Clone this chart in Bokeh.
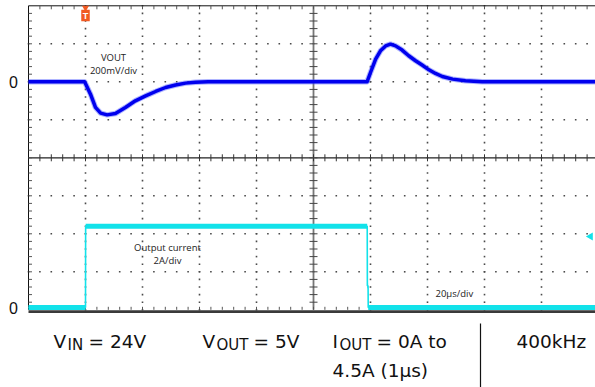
import numpy as np
from bokeh.plotting import figure
from bokeh.models import Range1d, Label
from bokeh.embed import file_html
from bokeh.resources import INLINE
from bokeh.core.properties import value

# ---------------- data ----------------
# Output-voltage deviation (mV) versus time (µs); trigger at t = 0
t_vout = [-20, -0.3, 1.75, 3.5, 5.3, 7.6, 10.5, 14.0, 17.5, 21.1, 24.6, 28.1,
          31.6, 35.1, 38.6, 43, 60, 80, 98.8, 100.0, 101.8, 103.5, 105.3,
          107.0, 108.8, 111.1, 113.4, 115.8, 118.1, 120.5, 122.8, 125.2,
          128.8, 133.3, 139.2, 160, 180]
vout_mv = [0, 0, -65, -135, -165, -174, -167, -135, -100, -74, -51, -30,
           -17, -7, -2, 0, 0, 0, 0, 49, 119, 163, 189,
           198, 189, 167, 137, 111, 88, 63, 44, 28,
           14, 5, 0, 0, 0]
# Output current (A) versus time (µs)
t_iout = [-20, 0, 0.05, 98.85, 98.9, 99.15, 99.2, 180]
iout_a = [0.12, 0.12, 4.4, 4.4, 1.26, 1.26, 0.12, 0.12]

# scope settings / text
time_per_div = 20      # µs/div
vout_per_div = 200     # mV/div
iout_per_div = 2       # A/div
zero_labels = ["0", "0"]
vout_label = ["VOUT", "200mV/div"]
iout_label = ["Output current", "2A/div"]
time_label = "20µs/div"

# ---------------- layout (screen pixels) ----------------
W, H = 595, 387
PX0, PY0 = 0, 0                 # page position of the figure
GX0, GY0 = 28, 5.3              # grid left / top
DW, DH = 57, 38                 # division size
NX, NY = 10, 8
TRIG_DIV = 1                    # trigger at 1 div from left
V0_DIV = 2                      # VOUT zero at 2 div from top
I0_DIV = 8                      # IOUT zero at bottom

x_lo, x_hi = PX0, PX0 + W
y_lo, y_hi = PY0 + H, PY0       # flipped: screen-like

p = figure(width=W, height=H, output_backend="svg", toolbar_location=None,
           x_range=Range1d(x_lo, x_hi), y_range=Range1d(y_lo, y_hi),
           x_axis_location=None, y_axis_location=None, min_border=0,
           background_fill_color="white", border_fill_color="white")
p.outline_line_color = None
p.grid.visible = False

tx0 = GX0 + TRIG_DIV * DW
yv0 = GY0 + V0_DIV * DH
yi0 = GY0 + I0_DIV * DH
p.extra_x_ranges = {"t": Range1d((x_lo - tx0) / DW * time_per_div,
                                 (x_hi - tx0) / DW * time_per_div)}
p.extra_y_ranges = {
    "v": Range1d((yv0 - y_lo) / DH * vout_per_div, (yv0 - y_hi) / DH * vout_per_div),
    "i": Range1d((yi0 - y_lo) / DH * iout_per_div, (yi0 - y_hi) / DH * iout_per_div),
}

GRID_RIGHT = x_hi
GRID_BOTTOM = GY0 + NY * DH
DOT = "#4a4a4a"

# dotted grid
vx, vy = [], []
for k in range(1, NX):
    if k == NX // 2:
        continue
    for j in range(NY * 5 + 1):
        vx.append(GX0 + k * DW)
        vy.append(GY0 + j * DH / 5)
for m in range(1, NY):
    if m == NY // 2:
        continue
    for j in range(NX * 5):
        vx.append(GX0 + j * DW / 5)
        vy.append(GY0 + m * DH)
p.scatter(vx, vy, marker="square", size=1.6, color=DOT, line_color=None)

# borders and centre cross
p.segment([GX0], [GY0], [GX0], [GRID_BOTTOM], line_color="#111", line_width=1)
p.segment([GX0], [GY0], [GRID_RIGHT], [GY0], line_color="#111", line_width=1)
cy = GY0 + NY / 2 * DH
cx = GX0 + NX / 2 * DW
p.segment([GX0], [cy], [GRID_RIGHT], [cy], line_color="#222", line_width=1.3)
p.segment([cx], [GY0], [cx], [GRID_BOTTOM], line_color="#777", line_width=1.8)
p.segment([GX0], [GRID_BOTTOM + 1.8], [GRID_RIGHT], [GRID_BOTTOM + 1.8],
          line_color="#3a3a3a", line_width=2.6)

tick_x = [GX0 + j * DW / 5 for j in range(1, NX * 5)]
tick_y = [GY0 + j * DH / 5 for j in range(1, NY * 5)]
# ticks on horizontal centre line
p.segment(tick_x, [cy - 3.5] * len(tick_x), tick_x, [cy + 3.5] * len(tick_x),
          line_color="#333", line_width=1)
# ticks on vertical centre line
p.segment([cx - 4] * len(tick_y), tick_y, [cx + 4] * len(tick_y), tick_y,
          line_color="#444", line_width=1)
# ticks on the frame
p.segment(tick_x, [GY0] * len(tick_x), tick_x, [GY0 + 3.5] * len(tick_x),
          line_color="#555", line_width=1)
p.segment([GX0] * len(tick_y), tick_y, [GX0 + 3.5] * len(tick_y), tick_y,
          line_color="#555", line_width=1)
p.segment(tick_x, [GRID_BOTTOM - 3] * len(tick_x), tick_x, [GRID_BOTTOM] * len(tick_x),
          line_color="#555", line_width=1)

# ---------------- traces ----------------
BLUE = "#0000ee"
p.line(t_vout, vout_mv, x_range_name="t", y_range_name="v",
       line_color="#4d5cff", line_width=5.5, line_alpha=0.45, line_join="round")
p.line(t_vout, vout_mv, x_range_name="t", y_range_name="v",
       line_color=BLUE, line_width=3.5, line_join="round")

CYAN = "#12e2ea"
ta = np.array(t_iout, dtype=float)
ia = np.array(iout_a, dtype=float)
p.line(ta, ia, x_range_name="t", y_range_name="i", line_color=CYAN, line_width=1.6)
flat = ia[:-1] == ia[1:]
p.segment(ta[:-1][flat], ia[:-1][flat], ta[1:][flat], ia[1:][flat],
          x_range_name="t", y_range_name="i", line_color=CYAN, line_width=5)

# trigger marker (at t = 0)
ORANGE = "#f15a22"
p.scatter([0], [GY0 + 2], x_range_name="t", marker="inverted_triangle",
          size=7, color=ORANGE, line_color=None)
p.rect([0], [15], width=8.5, height=11.5, x_range_name="t", width_units="screen",
       height_units="screen", color=ORANGE, line_color=None)
p.text([0], [15.2], text=["T"], x_range_name="t", text_align="center",
       text_baseline="middle", text_color="white", text_font_size="9px",
       text_font_style="bold", text_font=value("Liberation Sans"))

# channel level marker on the right
p.scatter([x_hi - 5], [236], marker="triangle", angle=np.pi / 2, size=8,
          color=CYAN, line_color=None)

# ---------------- texts ----------------
def lab(x, y, text, size, font="Open Sans", align="center", base="middle",
        color="#222", **kw):
    p.add_layout(Label(x=x, y=y, text=text, text_font_size=size,
                       text_font=font, text_align=align, text_baseline=base,
                       text_color=color, **kw))

lab(13, yv0, zero_labels[0], "16px", font="Liberation Sans", color="#111")
lab(13, yi0 - 1.8, zero_labels[1], "16px", font="Liberation Sans", color="#111")

lab(113, 57, vout_label[0], "9.5px")
lab(113, 70, vout_label[1], "9.5px")
lab(167, 247, iout_label[0], "9.5px")
lab(167, 259.5, iout_label[1], "9.5px")
lab(435, 293, time_label, "9.5px", align="left")

F = "DejaVu Sans"
B1, B2, SUB = 341.3, 370, 344.7
for x, y, t, s in [
    (53, B1, "V", "18.5px"), (67, SUB, "IN", "15px"), (88, B1, "= 24V", "18.5px"),
    (202, B1, "V", "18.5px"), (216, SUB, "OUT", "15px"), (253, B1, "= 5V", "18.5px"),
    (332, B1, "I", "18.5px"), (339, SUB, "OUT", "15px"), (376, B1, "= 0A to", "18.5px"),
    (332, B2, "4.5A (1µs)", "18.5px"),
    (516, B1, "400kHz", "18.5px"),
]:
    lab(x, y, t, s, font=F, align="left", base="alphabetic", color="#111")

p.segment([480], [323], [480], [y_lo], line_color="#111", line_width=1.2)

open("out.html", "w").write(file_html(p, INLINE))
